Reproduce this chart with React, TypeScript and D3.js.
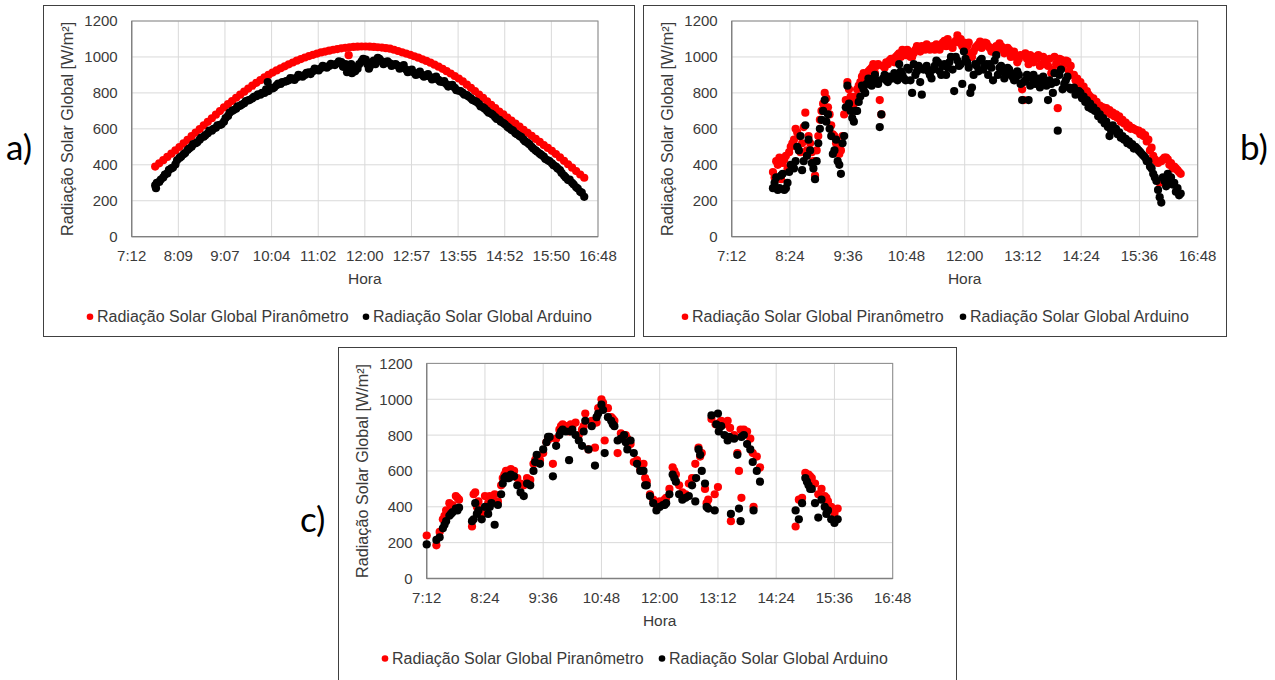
import React from "react";
import * as d3 from "d3";

// ---- dados (W/m²) ----

// a) amostras a cada 5 min a partir de 7:41 (segunda leitura do Arduino deslocada 2 min)
const aStart = "7:41";
const aStep = 5;
const aPiranometro = [
  390, 408, 426, 444, 462, 480, 499, 519, 539, 559, 579, 599, 619, 639, 659, 679, 699, 719,
  737, 755, 773, 790, 807, 824, 840, 856, 871, 886, 900, 913,
  925, 937, 948, 959, 969, 979, 988, 997, 1005, 1012, 1019,
  1025, 1030, 1035, 1040, 1044, 1048, 1051, 1054, 1056, 1057, 1058, 1058,
  1057, 1056, 1054, 1052, 1049, 1046, 1040, 1033, 1026, 1019, 1012, 1004,
  996, 987, 978, 968, 957, 946, 934, 921, 908, 894, 880,
  864, 846, 828, 810, 791, 772, 753, 734, 715, 696, 680,
  663, 646, 629, 612, 595, 578, 561, 544, 527, 510, 494, 478,
  460, 441, 422, 403, 384, 365, 346, 328,
];
const aArduino = [
  285, 305, 330, 352, 380, 402, 438, 458, 482, 500,
  520, 540, 556, 575, 590, 606, 622, 640, 672, 700,
  712, 728, 742, 758, 770, 782, 790, 800, 810, 825,
  842, 850, 862, 870, 880, 885, 895, 900, 915, 920,
  930, 938, 945, 950, 958, 965, 972, 960, 925, 945,
  935, 975, 985, 945, 980, 995, 975, 968, 965, 958,
  950, 940, 930, 920, 912, 905, 900, 895, 888, 880,
  872, 860, 848, 840, 828, 812, 800, 788, 770, 755,
  738, 720, 700, 685, 665, 650, 632, 612, 595, 575,
  560, 540, 522, 500, 480, 462, 445, 425, 408, 390,
  370, 340, 315, 300, 275, 250, 222,
];
const aStart2 = "7:43";
const aArduino2 = [
  300, 318, 345, 372, 385, 425, 445, 465, 490, 515, 525, 552,
  565, 590, 600, 620, 625, 660, 690, 705, 725, 735, 755, 762,
  778, 792, 800, 820, 830, 830, 852, 860, 865, 882, 872, 900,
  890, 912, 905, 935, 925, 950, 940, 962, 955, 975, 945, 915,
  960, 920, 960, 990, 960, 970, 960, 990, 960, 975, 950, 960,
  935, 955, 915, 930, 900, 918, 890, 905, 875, 890, 862, 865,
  835, 845, 815, 810, 790, 780, 760, 750, 725, 712, 690, 678,
  655, 640, 625, 605, 590, 570, 555, 530, 515, 490, 472, 455,
  432, 420, 398, 380, 355, 330, 318, 290, 268, 245,
];
const aExtraPiranometro: [string, number][] = [["11:40", 1010]];
const aExtraArduino: [string, number][] = [["7:42", 270], ["10:00", 860], ["11:44", 910], ["12:05", 935]];

// b) amostras a cada 4 min a partir de 8:03, e outra série de leituras a partir de 8:05
const bStart = "8:03";
const bStep = 4;
const bPiranometro = [
  360, 420, 440, 410, 450, 470, 520, 600, 560, 520,
  690, 560, 470, 340, 560, 700, 800, 720, 620, 560,
  500, 480, 680, 860, 780, 740, 820, 860, 910, 890,
  930, 960, 950, 760, 950, 970, 980, 990, 1000, 1020,
  1040, 1010, 1030, 1000, 1040, 1050, 1060, 1040, 1060, 1050,
  1040, 1050, 1060, 1090, 1100, 1060, 1080, 1120, 1100, 1080,
  1060, 1020, 1030, 1060, 1085, 1070, 1075, 1050, 1040, 1060,
  1075, 1050, 1030, 1040, 1020, 1000, 990, 820, 1020, 960,
  985, 1000, 1010, 960, 985, 950, 910, 1000, 715, 985,
  960, 975, 950, 900, 880, 860, 835, 810, 780, 770,
  750, 730, 720, 715, 705, 690, 680, 670, 650, 635,
  620, 605, 595, 590, 580, 565, 540, 495, 430, 410,
  420, 440, 430, 410, 390, 370, 350,
];
const bArduino = [
  270, 330, 270, 350, 270, 360, 400, 420, 480, 370,
  620, 540, 410, 320, 520, 650, 760, 680, 560, 480,
  420, 350, 560, 840, 700, 640, 700, 780, 820, 850,
  860, 880, 870, 610, 880, 870, 890, 880, 900, 960,
  900, 870, 930, 800, 900, 950, 790, 940, 920, 880,
  950, 970, 900, 960, 940, 1000, 810, 980, 960, 1030,
  970, 800, 900, 950, 980, 930, 960, 960, 870, 1010,
  940, 920, 900, 930, 890, 880, 900, 760, 870, 760,
  880, 850, 880, 860, 870, 760, 850, 910, 590, 930,
  850, 890, 820, 830, 810, 800, 780, 760, 740, 720,
  700, 680, 660, 640, 560, 620, 600, 580, 560, 545,
  530, 515, 500, 480, 460, 440, 420, 380, 330, 260,
  190, 310, 350, 330, 300, 270, 240,
];
const bStart2 = "8:05";
const bPiranometro2 = [
  330, 400, 320, 430, 380, 500, 540, 580, 470, 610,
  480, 520, 420, 480, 650, 740, 770, 680, 570, 520,
  460, 560, 760, 820, 700, 780, 840, 890, 870, 920,
  940, 910, 960, 680, 940, 960, 990, 970, 1010, 1000,
  1020, 1040, 1000, 1020, 1060, 1030, 1050, 1070, 1040, 1060,
  1070, 1040, 1080, 1060, 1070, 1050, 1090, 1080, 1060, 1040,
  1080, 1000, 1050, 1070, 1050, 1080, 1060, 1030, 1050, 1040,
  1060, 1020, 1050, 1000, 1030, 970, 1010, 760, 990, 1010,
  970, 990, 950, 1000, 960, 990, 930, 960, 990, 940,
  980, 920, 900, 870, 850, 830, 800, 790, 760, 740,
  730, 720, 700, 690, 680, 670, 660, 640, 630, 610,
  600, 600, 590, 570, 560, 530, 480, 450, 420, 300,
  430, 440, 400, 380, 380, 360,
];
const bArduino2 = [
  300, 260, 340, 260, 300, 400, 380, 500, 560, 420,
  450, 480, 380, 420, 600, 700, 640, 600, 460, 540,
  400, 520, 720, 740, 660, 700, 750, 840, 800, 880,
  840, 900, 850, 680, 900, 860, 880, 910, 870, 920,
  880, 940, 870, 960, 920, 860, 930, 950, 900, 930,
  980, 920, 950, 900, 970, 930, 1000, 950, 850, 990,
  940, 830, 960, 920, 990, 950, 900, 940, 980, 900,
  950, 880, 940, 910, 870, 920, 850, 860, 900, 840,
  900, 870, 830, 890, 840, 870, 800, 860, 900, 820,
  870, 830, 820, 790, 810, 770, 750, 720, 710, 700,
  670, 650, 630, 610, 590, 590, 570, 550, 540, 520,
  510, 490, 490, 470, 450, 420, 390, 350, 310, 220,
  330, 280, 300, 290, 250, 230,
];

// c) amostras a cada 4 min a partir de 7:12 (null = sem leitura)
const cStart = "7:12";
const cStep = 4;
const cPiranometro = [
  240, null, null, 185, 260, 330, 380, 420, 410, 460,
  440, null, null, null, 290, 480, 430, 360, 460, 420,
  440, 470, 430, 520, 580, 600, 610, 600, 560, 530,
  520, 560, 550, 640, 680, 660, 700, 760, 780, 640,
  780, 830, 860, 850, 820, 850, 870, 800, 830, 920,
  720, 880, 730, 950, 1000, 770, 950, 900, 880, 700,
  810, 800, 780, 750, 650, 660, 610, 640, 540, 470,
  440, 410, 430, 420, 450, 500, 620, 580, 520, 480,
  470, 530, 560, 640, 730, 700, 500, 440, 890, 470,
  510, 880, 860, 880, 320, 800, 700, 830, 830, 820,
  780, 400, 680, 620, null, null, null, null, null, null,
  null, null, null, null, 290, 440, 450, 590, 580, 560,
  530, 470, 500, 460, 430, 400, 360, 390,
];
const cArduino = [
  190, null, null, 215, 230, 280, 320, 350, 370, 390,
  395, null, null, null, 320, 420, 380, 330, 400, 360,
  420, 300, 410, 470, 560, 560, 580, 570, 520, 480,
  460, 530, 520, 600, 690, 640, 720, 760, 790, 570,
  740, 800, 830, 820, 660, 830, 800, 770, 740, 880,
  720, 850, 630, 920, 970, 700, 900, 880, 850, 770,
  780, 800, 720, 770, 700, 640, 600, 600, 520, 460,
  420, 380, 400, 410, 420, 470, 580, 540, 470, 440,
  450, 460, 520, 430, 720, 600, 530, 390, 910, 380,
  920, 850, 800, 770, 360, 780, 690, 320, 800, 750,
  720, 380, 600, 540, null, null, null, null, null, null,
  null, null, null, null, 380, 330, 420, 560, 520, 500,
  420, 340, 440, 400, 380, 330, 310, 330,
];
const cExtraPiranometro: [string, number][] = [
  ["7:34", 350], ["7:42", 400], ["7:50", 450], ["8:10", 470], ["8:14", 400], ["8:30", 460],
  ["8:46", 560], ["8:50", 600], ["8:54", 600], ["9:26", 660], ["9:42", 780], ["9:58", 850],
  ["10:10", 860], ["10:26", 850], ["10:42", 870], ["10:50", 980], ["11:02", 890], ["11:18", 800],
  ["11:42", 560], ["12:06", 440], ["12:18", 600], ["12:50", 680],
  ["13:09", 860], ["13:14", 870], ["13:27", 840], ["13:38", 600], ["13:41", 450],
  ["13:55", 700], ["12:58", 420], ["15:02", 580], ["15:06", 570], ["15:26", 450],
];
const cExtraArduino: [string, number][] = [
  ["7:34", 300], ["7:42", 360], ["7:50", 380], ["8:10", 330], ["8:14", 360], ["8:30", 400],
  ["8:46", 530], ["8:50", 570], ["8:54", 560], ["9:26", 650], ["9:42", 790], ["9:58", 820],
  ["10:10", 820], ["10:26", 820], ["10:42", 900], ["10:50", 940], ["11:02", 860], ["11:18", 760],
  ["11:42", 520], ["12:06", 410], ["12:18", 560], ["12:50", 690],
  ["13:10", 860], ["13:13", 820], ["13:26", 790], ["13:38", 390], ["13:41", 790],
  ["13:55", 650], ["12:58", 400], ["12:45", 560], ["15:02", 540], ["15:06", 500], ["15:26", 360],
];

const ticksA = ["7:12", "8:09", "9:07", "10:04", "11:02", "12:00", "12:57", "13:55", "14:52", "15:50", "16:48"];
const ticksBC = ["7:12", "8:24", "9:36", "10:48", "12:00", "13:12", "14:24", "15:36", "16:48"];
const yTicks = [0, 200, 400, 600, 800, 1000, 1200];

const serieNames = ["Radiação Solar Global Piranômetro", "Radiação Solar Global Arduino"];

// ---- helpers ----
const toMin = (s: string) => {
  const [h, m] = s.split(":").map(Number);
  return h * 60 + m;
};

type Pt = { t: number; v: number };
type Seg = [string, number, (number | null)[]];

const buildSeries = (segs: Seg[], extra: [string, number][] = []) => {
  const pts: Pt[] = [];
  segs.forEach(([start, step, vals]) => {
    const t0 = toMin(start);
    vals.forEach((v, i) => {
      if (v != null) pts.push({ t: t0 + i * step, v });
    });
  });
  extra.forEach(([s, v]) => pts.push({ t: toMin(s), v }));
  return pts;
};

const FONT = "'Liberation Sans', Arial, sans-serif";
const TXT = "#3a3a3a";
const R = 4.1;

type PanelProps = {
  frame: [number, number, number, number];
  plot: [number, number, number, number];
  ticks: string[];
  pyr: Pt[];
  ard: Pt[];
  legendX: [number, number];
};

const Panel = ({ frame, plot, ticks, pyr, ard, legendX }: PanelProps) => {
  const [x0, y0, x1, y1] = plot;
  const x = d3.scaleLinear().domain([toMin("7:12"), toMin("16:48")]).range([x0, x1]);
  const y = d3.scaleLinear().domain([0, 1200]).range([y1, y0]);
  const tickPos = ticks.map((_, i) => x.invert(x0 + (i * (x1 - x0)) / (ticks.length - 1)));
  const legY = y1 + 85;

  return (
    <g>
      <rect
        x={frame[0]}
        y={frame[1]}
        width={frame[2] - frame[0]}
        height={frame[3] - frame[1]}
        fill="#fff"
        stroke="#404040"
        strokeWidth={1}
      />
      {yTicks.map((v) => (
        <line key={"h" + v} x1={x0} x2={x1} y1={y(v)} y2={y(v)} stroke="#d9d9d9" strokeWidth={1} />
      ))}
      {tickPos.map((t, i) => (
        <line key={"v" + i} x1={x(t)} x2={x(t)} y1={y0} y2={y1} stroke="#d9d9d9" strokeWidth={1} />
      ))}
      <rect x={x0} y={y0} width={x1 - x0} height={y1 - y0} fill="none" stroke="#8c8c8c" strokeWidth={1} />
      <line x1={x0} x2={x0} y1={y0} y2={y1} stroke="#808080" strokeWidth={1.3} />
      <line x1={x0} x2={x1} y1={y1} y2={y1} stroke="#808080" strokeWidth={1.3} />

      {pyr.map((d, i) => (
        <circle key={"r" + i} cx={x(d.t)} cy={y(d.v)} r={R} fill="#ff0000" />
      ))}
      {ard.map((d, i) => (
        <circle key={"k" + i} cx={x(d.t)} cy={y(d.v)} r={R} fill="#000" />
      ))}

      {yTicks.map((v) => (
        <text key={"yl" + v} x={x0 - 14} y={y(v)} dy="0.36em" textAnchor="end" fontSize={15} fill={TXT} fontFamily={FONT}>
          {v}
        </text>
      ))}
      {ticks.map((s, i) => (
        <text key={"xl" + i} x={x(tickPos[i])} y={y1 + 24.5} textAnchor="middle" fontSize={15} fill={TXT} fontFamily={FONT}>
          {s}
        </text>
      ))}
      <text x={(x0 + x1) / 2} y={y1 + 47} textAnchor="middle" fontSize={15.5} fill={TXT} fontFamily={FONT}>
        Hora
      </text>
      <text
        transform={`translate(${x0 - 64},${(y0 + y1) / 2}) rotate(-90)`}
        textAnchor="middle"
        dy="0.35em"
        fontSize={16.2}
        fill={TXT}
        fontFamily={FONT}
      >
        Radiação Solar Global [W/m²]
      </text>

      <circle cx={legendX[0]} cy={legY - 5} r={3.3} fill="#ff0000" />
      <text x={legendX[0] + 7} y={legY} fontSize={16} fill={TXT} fontFamily={FONT}>
        {serieNames[0]}
      </text>
      <circle cx={legendX[1]} cy={legY - 5} r={3.3} fill="#000" />
      <text x={legendX[1] + 7} y={legY} fontSize={16} fill={TXT} fontFamily={FONT}>
        {serieNames[1]}
      </text>
    </g>
  );
};

const App = () => {
  const aP = buildSeries([[aStart, aStep, aPiranometro]], aExtraPiranometro);
  const aA = buildSeries([[aStart, aStep, aArduino], [aStart2, aStep, aArduino2]], aExtraArduino);
  const bP = buildSeries([[bStart, bStep, bPiranometro], [bStart2, bStep, bPiranometro2]]);
  const bA = buildSeries([[bStart, bStep, bArduino], [bStart2, bStep, bArduino2]]);
  const cP = buildSeries([[cStart, cStep, cPiranometro]], cExtraPiranometro);
  const cA = buildSeries([[cStart, cStep, cArduino]], cExtraArduino);

  const tag = { fontSize: 35, fill: "#000", fontFamily: "Lato, 'Open Sans', sans-serif" };

  return (
    <svg width={1275} height={680} style={{ position: "absolute", left: 0, top: 0, background: "#fff" }}>
      <rect width={1275} height={680} fill="#fff" />
      <Panel frame={[43.5, 5.5, 634.5, 336.5]} plot={[131.7, 21, 598, 236.7]} ticks={ticksA} pyr={aP} ard={aA} legendX={[90, 366]} />
      <Panel frame={[643.5, 5.5, 1226.5, 336.5]} plot={[731.7, 21, 1197.7, 236.7]} ticks={ticksBC} pyr={bP} ard={bA} legendX={[685, 963]} />
      <Panel frame={[338.5, 347.5, 956.5, 682]} plot={[426.7, 363.4, 892.7, 578.5]} ticks={ticksBC} pyr={cP} ard={cA} legendX={[385, 662]} />
      <text x={6} y={160} {...tag}>a)</text>
      <text x={1240} y={160} {...tag}>b)</text>
      <text x={300} y={532} {...tag}>c)</text>
    </svg>
  );
};

export default App;
